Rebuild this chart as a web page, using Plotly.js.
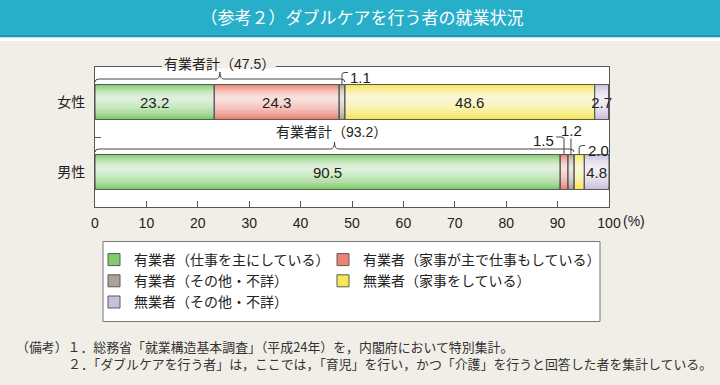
<!DOCTYPE html>
<html>
<head>
<meta charset="utf-8">
<script src="https://cdn.plot.ly/plotly-3.0.1.min.js"></script>
<style>
  html, body { margin: 0; padding: 0; background: #f1eee7; }
  #chart { width: 720px; height: 385px; }
</style>
</head>
<body>
<div id="chart"></div>
<script>
// ---------------- data ----------------
const categories = ['女性', '男性'];
const seriesNames = [
  '有業者（仕事を主にしている）',
  '有業者（家事が主で仕事もしている）',
  '有業者（その他・不詳）',
  '無業者（家事をしている）',
  '無業者（その他・不詳）'
];
const femaleValues = [23.2, 24.3, 1.1, 48.6, 2.7];
const maleValues = [90.5, 1.5, 1.2, 2.0, 4.8];
const employedTotals = [47.5, 93.2];
const employedLabel = '有業者計';
const tickValues = [0, 10, 20, 30, 40, 50, 60, 70, 80, 90, 100];
const tickLabels = ['0', '10', '20', '30', '40', '50', '60', '70', '80', '90', '100'];
const unitLabel = '(%)';
const titleText = '（参考２）ダブルケアを行う者の就業状況';
const noteLines = [
  '（備考）１．総務省「就業構造基本調査」（平成24年）を，内閣府において特別集計。',
  '２．「ダブルケアを行う者」は，ここでは，「育児」を行い，かつ「介護」を行うと回答した者を集計している。'
];

// ---------------- styling ----------------
const seriesColors = ['#80cc6d', '#ec8374', '#aca293', '#f6e658', '#cabfdd'];
const BG = '#f1eee7';
const FONT = 'Liberation Sans, "Noto Sans CJK JP", sans-serif';
const JFONT = '"Noto Sans CJK JP", sans-serif';
const M = { l: 95, r: 111, t: 67, b: 178 };
const W = 720 - M.l - M.r, H = 385 - M.t - M.b;
const YR = [-0.5, 1.5];
const px2x = 100 / W, px2y = (YR[1] - YR[0]) / H;
const xp = px => (px - M.l) / W;
const yp = py => 1 - (py - M.t) / H;
const BARW = 0.5;

const rows = [femaleValues, maleValues];
const yPos = [1, 0];

const starts = rows.map(vals => {
  let s = 0; return vals.map(v => { const b = s; s += v; return b; });
});

const traces = [];
seriesNames.forEach((name, i) => {
  traces.push({
    type: 'bar', orientation: 'h', name: name,
    legend: (i % 2 === 0) ? 'legend' : 'legend2',
    y: yPos, x: rows.map(r => r[i]), base: starts.map(s => s[i]),
    width: BARW,
    marker: { color: seriesColors[i], line: { color: '#5a5a5a', width: 1 } },
    hoverinfo: 'skip'
  });
});

const segX = [], segBase = [], segY = [], segText = [];
rows.forEach((vals, r) => vals.forEach((v, i) => {
  segX.push(v); segBase.push(starts[r][i]); segY.push(yPos[r]);
  segText.push(v >= 2.5 ? v.toFixed(1) : '');
}));

// glossy highlight: nested translucent white bands, brightest a bit above centre
const HC = 0.06, UP = BARW / 2 - HC, DN = BARW / 2 + HC;
for (let k = 9; k >= 1; k--) {
  const f = k / 10;
  traces.push({
    type: 'bar', orientation: 'h', y: segY, x: segX, base: segBase,
    width: (UP + DN) * f, offset: HC - DN * f,
    marker: { color: 'rgba(255,255,255,0.15)', line: { width: 0 } },
    showlegend: false, hoverinfo: 'skip'
  });
}

traces.push({
  type: 'bar', orientation: 'h', y: segY, x: segX, base: segBase, width: BARW,
  marker: { color: 'rgba(0,0,0,0)', line: { color: '#5a5a5a', width: 1 } },
  text: segText, textposition: 'inside', insidetextanchor: 'middle',
  constraintext: 'none', textangle: 0, cliponaxis: false,
  textfont: { family: FONT, size: 15, color: '#222' },
  showlegend: false, hoverinfo: 'skip'
});

// ---------------- braces, leaders, frames ----------------
const shapes = [];
const annotations = [];
const LC = '#444';

shapes.push({ type: 'rect', xref: 'paper', yref: 'paper', x0: xp(0), x1: xp(720), y0: yp(36), y1: yp(0),
  fillcolor: '#27aec9', line: { width: 0 }, layer: 'below' });
shapes.push({ type: 'rect', xref: 'paper', yref: 'paper', x0: xp(0), x1: xp(720), y0: yp(37.5), y1: yp(35),
  fillcolor: '#1a98b3', line: { width: 0 }, layer: 'below' });
shapes.push({ type: 'rect', xref: 'paper', yref: 'paper', x0: xp(0), x1: xp(720), y0: yp(41), y1: yp(37.5),
  fillcolor: '#ffffff', line: { width: 0 }, layer: 'below' });

rows.forEach((vals, r) => {
  const top = yPos[r] + BARW / 2;
  const x0 = 0, x1 = vals[0] + vals[1] + vals[2];
  const xm = (x0 + x1) / 2;
  const yb = top + 2.5 * px2y, yh = top + 5.5 * px2y, yt = top + 12.5 * px2y;
  const c = 4 * px2x;
  const path = `M ${x0},${yb} Q ${x0},${yh} ${x0 + c},${yh} L ${xm - c},${yh} Q ${xm},${yh} ${xm},${yt} ` +
               `Q ${xm},${yh} ${xm + c},${yh} L ${x1 - c},${yh} Q ${x1},${yh} ${x1},${yb}`;
  shapes.push({ type: 'path', xref: 'x', yref: 'y', path: path, line: { color: LC, width: 1 } });
  const label = employedLabel + '（' + employedTotals[r].toFixed(1) + '）';
  if (r === 0) {
    shapes.push({ type: 'rect', xref: 'x', yref: 'paper', x0: xm - 58 * px2x, x1: xm + 56 * px2x,
      y0: yp(68.5), y1: yp(65.5), fillcolor: BG, line: { width: 0 }, layer: 'above' });
    annotations.push({ xref: 'x', yref: 'paper', x: xm, y: yp(63.5), text: label, showarrow: false,
      xanchor: 'center', yanchor: 'middle', font: { family: FONT, size: 14, color: '#222' } });
  } else {
    annotations.push({ xref: 'x', yref: 'y', x: xm - 3 * px2x, y: top + 23 * px2y, text: label, showarrow: false,
      xanchor: 'center', yanchor: 'middle', font: { family: FONT, size: 14, color: '#222' } });
  }
});

// leaders for small segments: [row, series, style, rise(px)]
const leaders = [[0, 2, 'right', 12], [1, 1, 'left', 17.5], [1, 2, 'up', 16], [1, 3, 'right', 9]];
leaders.forEach(([r, i, style, rise]) => {
  const v = rows[r][i];
  const xc = starts[r][i] + v / 2;
  const top = yPos[r] + BARW / 2;
  const yTop = top + rise * px2y;
  const label = v.toFixed(1);
  let path, ann;
  if (style === 'right') {
    path = `M ${xc},${top} L ${xc},${yTop - 2 * px2y} Q ${xc},${yTop} ${xc + 3 * px2x},${yTop} L ${xc + 6 * px2x},${yTop}`;
    ann = { x: xc + 6.5 * px2x, y: yTop - 4.5 * px2y, xanchor: 'left' };
  } else if (style === 'left') {
    path = `M ${xc},${top} L ${xc},${yTop - 2 * px2y} Q ${xc},${yTop} ${xc - 3 * px2x},${yTop} L ${xc - 8 * px2x},${yTop}`;
    ann = { x: xc - 8.5 * px2x, y: yTop - 3 * px2y, xanchor: 'right' };
  } else {
    path = `M ${xc},${top} L ${xc},${yTop}`;
    ann = { x: xc + 1 * px2x, y: yTop + 8 * px2y, xanchor: 'center' };
  }
  shapes.push({ type: 'path', xref: 'x', yref: 'y', path: path, line: { color: LC, width: 1 } });
  annotations.push(Object.assign({ xref: 'x', yref: 'y', text: label, showarrow: false, yanchor: 'middle',
    font: { family: FONT, size: 15, color: '#222' } }, ann));
});

annotations.push({ xref: 'x', yref: 'paper', x: 100, y: yp(221), xshift: 12, text: unitLabel, showarrow: false,
  xanchor: 'left', yanchor: 'middle', font: { family: FONT, size: 14, color: '#222' } });

// legend frame
shapes.push({ type: 'rect', xref: 'paper', yref: 'paper', x0: xp(103), x1: xp(600), y0: yp(321.5), y1: yp(241.5),
  fillcolor: '#ffffff', line: { color: '#777', width: 1 }, layer: 'below' });

// notes
noteLines.forEach((t, k) => {
  annotations.push({ xref: 'paper', yref: 'paper', x: xp(k === 0 ? 15 : 67), y: yp(346.5 + 17 * k), text: t,
    showarrow: false, borderpad: 0, xanchor: 'left', yanchor: 'middle',
    font: { family: JFONT, size: 12.9, color: '#333' } });
});

const legendBase = {
  orientation: 'v', yanchor: 'top', xanchor: 'left', bgcolor: 'rgba(0,0,0,0)', borderwidth: 0,
  traceorder: 'normal', font: { family: JFONT, size: 14, color: '#222' }
};

const layout = {
  width: 720, height: 385,
  margin: M,
  paper_bgcolor: BG, plot_bgcolor: '#ffffff',
  font: { family: FONT, size: 14, color: '#222' },
  barmode: 'overlay',
  hovermode: false,
  title: { text: titleText, x: 362 / 720, xref: 'container', xanchor: 'center', y: 1 - 18 / 385, yref: 'container',
    yanchor: 'middle', font: { family: JFONT, size: 17, color: '#ffffff' } },
  xaxis: {
    range: [0, 100], tickmode: 'array', tickvals: tickValues, ticktext: tickLabels,
    ticks: 'inside', ticklen: 6, tickcolor: '#555', tickwidth: 1,
    showline: true, linecolor: '#555', linewidth: 1, mirror: true,
    showgrid: false, zeroline: false, fixedrange: true, ticklabelstandoff: 3,
    tickfont: { family: FONT, size: 14, color: '#222' }
  },
  yaxis: {
    range: YR, tickmode: 'array', tickvals: yPos, ticktext: categories, ticks: '',
    minor: { tickmode: 'array', tickvals: [0.5], ticks: 'inside', ticklen: 6, tickcolor: '#555', showgrid: false },
    showline: true, linecolor: '#555', linewidth: 1, mirror: true,
    showgrid: false, zeroline: false, fixedrange: true, ticklabelstandoff: 6,
    tickfont: { family: JFONT, size: 14, color: '#222' }
  },
  legend: Object.assign({}, legendBase, { x: xp(94), y: yp(244) }),
  legend2: Object.assign({}, legendBase, { x: xp(323), y: yp(244) }),
  shapes: shapes,
  annotations: annotations
};

Plotly.newPlot('chart', traces, layout, { staticPlot: true, displayModeBar: false });
</script>
</body>
</html>
